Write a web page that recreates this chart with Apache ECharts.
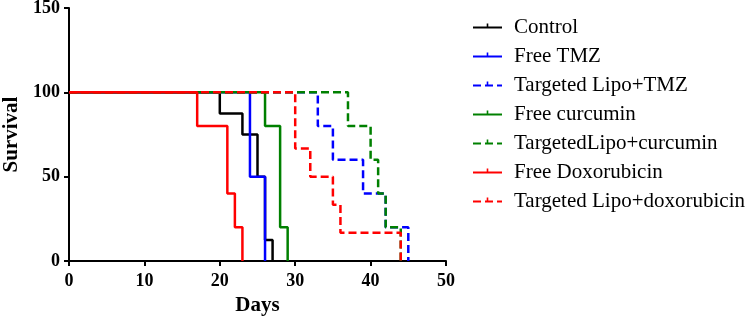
<!DOCTYPE html>
<html>
<head>
<meta charset="utf-8">
<script src="https://cdn.jsdelivr.net/npm/echarts@6/dist/echarts.min.js"></script>
<style>
  html, body { margin: 0; padding: 0; background: #fff; }
  #chart { width: 751px; height: 323px; }
</style>
</head>
<body>
<div id="chart"></div>
<script>
// survival curves: day of each step and survival (%) after it
var controlDays = [0, 20, 23, 25, 26, 27];
var controlSurv = [100, 87.5, 75, 50, 12.5, 0];
var tmzDays = [0, 24, 26];
var tmzSurv = [100, 50, 0];
var lipoTmzDays = [0, 33, 35, 39, 42, 45];
var lipoTmzSurv = [100, 80, 60, 40, 20, 0];
var curDays = [0, 26, 28, 29];
var curSurv = [100, 80, 20, 0];
var lipoCurDays = [0, 37, 40, 41, 42, 44];
var lipoCurSurv = [100, 80, 60, 40, 20, 0];
var doxDays = [0, 17, 21, 22, 23];
var doxSurv = [100, 80, 40, 20, 0];
var lipoDoxDays = [0, 30, 32, 35, 36, 44];
var lipoDoxSurv = [100, 66.7, 50, 33.3, 16.7, 0];

var seriesNames = ['Control', 'Free TMZ', 'Targeted Lipo+TMZ', 'Free curcumin',
  'TargetedLipo+curcumin', 'Free Doxorubicin', 'Targeted Lipo+doxorubicin'];

var font = 'Liberation Serif, Times New Roman, serif';
// little upward tick used as the legend marker (bottom sliver keeps it above the line)
var tickMark = 'path://M4,0h2v5h-2z M0,9.9h10v0.1h-10z';

function pairs(days, surv) {
  return days.map(function (d, i) { return [d, surv[i]]; });
}

function curve(name, days, surv, color, dashed) {
  return {
    name: name,
    type: 'line',
    step: 'end',
    data: pairs(days, surv),
    symbol: tickMark,
    showSymbol: false,
    itemStyle: { color: color },
    lineStyle: { color: color, width: 2.5, type: dashed ? [8, 4] : 'solid' },
    emphasis: { disabled: true },
    animation: false
  };
}

var chart = echarts.init(document.getElementById('chart'));
chart.setOption({
  backgroundColor: '#fff',
  grid: { left: 69, right: 305, top: 8, bottom: 62, outerBoundsMode: 'none' },
  legend: {
    orient: 'vertical',
    left: 467,
    top: 12,
    itemWidth: 29,
    itemHeight: 10,
    itemGap: 8,
    data: seriesNames,
    textStyle: { fontFamily: font, fontSize: 21, color: '#000', padding: [0, 0, 0, 7] }
  },
  xAxis: {
    type: 'value',
    min: 0,
    max: 50,
    interval: 10,
    name: 'Days',
    nameLocation: 'middle',
    nameGap: 31,
    nameTextStyle: { fontFamily: font, fontSize: 21, fontWeight: 'bold', color: '#000' },
    axisLine: { lineStyle: { color: '#000', width: 2 } },
    axisTick: { length: 5, lineStyle: { color: '#000', width: 2 } },
    axisLabel: { fontFamily: font, fontSize: 18, fontWeight: 'bold', color: '#000', margin: 11 },
    splitLine: { show: false }
  },
  yAxis: {
    type: 'value',
    min: 0,
    max: 150,
    interval: 50,
    name: 'Survival',
    nameLocation: 'middle',
    nameGap: 45,
    nameTextStyle: { fontFamily: font, fontSize: 21, fontWeight: 'bold', color: '#000' },
    axisLine: { show: true, lineStyle: { color: '#000', width: 2 } },
    axisTick: { show: true, length: 5, lineStyle: { color: '#000', width: 2 } },
    axisLabel: { fontFamily: font, fontSize: 18, fontWeight: 'bold', color: '#000', margin: 9 },
    splitLine: { show: false }
  },
  series: [
    curve(seriesNames[0], controlDays, controlSurv, '#000000', false),
    curve(seriesNames[1], tmzDays, tmzSurv, '#0000ff', false),
    curve(seriesNames[2], lipoTmzDays, lipoTmzSurv, '#0000ff', true),
    curve(seriesNames[3], curDays, curSurv, '#008000', false),
    curve(seriesNames[4], lipoCurDays, lipoCurSurv, '#008000', true),
    curve(seriesNames[5], doxDays, doxSurv, '#ff0000', false),
    curve(seriesNames[6], lipoDoxDays, lipoDoxSurv, '#ff0000', true)
  ]
});
</script>
</body>
</html>
